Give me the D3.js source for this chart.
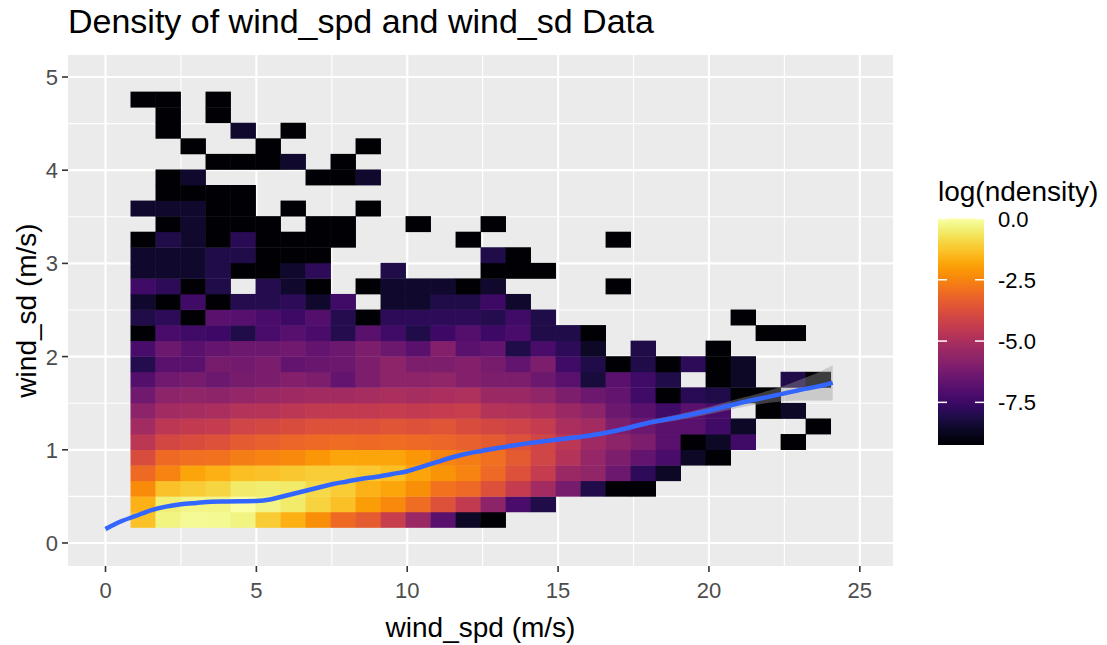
<!DOCTYPE html>
<html><head><meta charset="utf-8">
<script src="https://cdn.jsdelivr.net/npm/d3@7"></script>
<style>body{margin:0;background:#fff;} text{font-family:"Liberation Sans",Arial,sans-serif;}</style>
</head><body><svg id="chart" width="1107" height="645"></svg>
<script>
const N = null;
// bin widths (wind_spd, wind_sd); the first bin (index 0) is empty
const xBinWidth = 0.8287;
const yBinWidth = 0.167;
const firstBin = 1;
// log(ndensity) per cell, rows from the lowest wind_sd bin upward, columns by wind_spd bin
const densityRows = [
 [-1.3,-0.35,-0.15,-0.2,-0.35,-1.15,-1.65,-2.3,-3.05,-3.4,-4.3,-5.4,-6.85,-8.6,-9.2,N,N,N,N,N,N,N,N,N,N,N,N,N],
 [-1.6,-0.45,-0.3,-0.3,0.0,-0.3,-0.55,-1.0,-1.35,-2.0,-2.4,-3.0,-3.7,-4.45,-5.7,-7.2,-8.1,N,N,N,N,N,N,N,N,N,N,N],
 [-2.35,-1.3,-1.15,-0.95,-0.55,-0.5,-0.55,-0.9,-1.15,-1.6,-1.85,-2.3,-2.9,-3.1,-3.7,-4.4,-5.2,-6.2,-8.1,-9.2,-9.2,N,N,N,N,N,N,N],
 [-3.05,-2.5,-1.85,-1.65,-1.4,-1.3,-1.2,-1.1,-1.1,-1.2,-1.4,-1.85,-2.2,-2.5,-3.1,-3.7,-4.4,-5.4,-5.6,-6.45,-7.8,-8.6,N,N,N,N,N,N],
 [-3.85,-3.05,-2.95,-2.9,-2.65,-2.5,-2.4,-2.1,-1.85,-1.85,-1.85,-2.15,-2.5,-2.65,-2.95,-3.45,-4.05,-4.8,-5.5,-6.05,-6.65,-7.2,-8.6,-9.2,N,N,N,N],
 [-4.6,-4.0,-3.85,-3.7,-3.45,-3.3,-3.15,-3.05,-3.0,-3.05,-3.0,-3.05,-3.15,-3.3,-3.45,-3.7,-4.05,-4.6,-5.3,-5.7,-6.05,-6.85,-9.2,-8.6,-7.4,N,-9.2,N],
 [-5.2,-4.6,-4.45,-4.4,-4.05,-3.95,-3.85,-3.7,-3.7,-3.7,-3.6,-3.7,-3.6,-3.85,-4.0,-4.15,-4.4,-5.0,-5.2,-6.05,-6.45,-6.85,-6.85,-7.4,-8.6,N,N,-9.2],
 [-5.7,-5.2,-5.1,-5.0,-4.8,-4.75,-4.6,-4.45,-4.45,-4.45,-4.4,-4.45,-4.4,-4.3,-4.8,-4.85,-5.0,-5.4,-5.7,-6.45,-6.85,-7.4,-6.85,-7.2,N,-9.2,-8.6,N],
 [-6.35,-5.7,-5.6,-5.7,-5.5,-5.4,-5.3,-5.2,-5.2,-5.1,-5.0,-5.1,-5.0,-4.95,-5.4,-5.4,-5.6,-6.05,-6.45,-6.65,-7.4,-9.2,-7.9,-8.1,-9.2,-9.2,N,N],
 [-7.0,-6.35,-6.2,-6.45,-6.2,-6.1,-5.9,-6.05,-6.65,-6.05,-5.7,-5.7,-5.6,-5.9,-6.05,-6.05,-6.45,-6.85,-8.3,-6.85,-7.4,-8.1,N,-9.2,-8.6,N,-8.1,-9.2],
 [-8.0,-6.85,-6.85,-6.2,-6.25,-6.1,-6.65,-6.5,-6.45,-6.05,-5.7,-6.05,-6.05,-5.9,-6.2,-6.65,-6.05,-7.4,-8.1,-9.2,-8.1,-9.2,-7.8,-9.2,-8.6,N,N,N],
 [-7.2,-6.45,-6.85,-6.6,-6.45,-6.45,-6.35,-6.65,-6.45,-6.05,-6.45,-6.85,-5.9,-6.85,-6.65,-8.1,-7.2,-7.8,-8.6,N,-8.1,N,N,-9.2,N,N,N,N],
 [-9.2,-7.2,-7.4,-7.45,-8.1,-7.2,-6.9,-7.2,-8.0,-6.85,-7.4,-8.1,-7.45,-7.0,-7.45,-7.2,-8.1,-8.1,-9.2,N,N,N,N,N,N,-9.2,-9.2,N],
 [-8.1,-7.8,-9.2,-6.85,-6.9,-7.2,-7.5,-7.0,-8.0,-9.2,-7.8,-7.8,-7.8,-7.8,-8.0,-7.4,-8.1,N,N,N,N,N,N,N,-9.2,N,N,N],
 [-8.5,-9.2,-7.4,-9.2,-8.0,-8.0,-7.8,-8.5,-7.4,N,-8.5,-8.5,-8.1,-8.1,-7.5,-8.5,N,N,N,N,N,N,N,N,N,N,N,N],
 [-7.4,-7.8,-9.2,-8.1,N,-8.0,-8.5,-9.2,N,-9.2,-8.5,-8.5,-8.5,-9.2,-8.5,N,N,N,N,-9.2,N,N,N,N,N,N,N,N],
 [-8.5,-8.5,-8.5,-8.1,-9.2,-9.2,-8.5,-7.8,N,N,-8.1,N,N,N,-9.2,-9.2,-9.2,N,N,N,N,N,N,N,N,N,N,N],
 [-8.5,-8.5,-8.5,-8.1,-8.1,-9.2,-9.2,-9.2,N,N,N,N,N,N,-8.1,-9.2,N,N,N,N,N,N,N,N,N,N,N,N],
 [-9.2,-8.1,-8.5,-9.2,-7.9,-9.2,-9.2,-9.2,-9.2,N,N,N,N,-9.2,N,N,N,N,N,-9.2,N,N,N,N,N,N,N,N],
 [N,-9.2,-8.5,-9.2,-9.2,-9.2,N,-9.2,-9.2,N,N,-9.2,N,N,-9.2,N,N,N,N,N,N,N,N,N,N,N,N,N],
 [-8.5,-8.5,-8.5,-9.2,-9.2,N,-9.2,N,N,-9.2,N,N,N,N,N,N,N,N,N,N,N,N,N,N,N,N,N,N],
 [N,-9.2,-9.2,-9.2,-9.2,N,N,N,N,N,N,N,N,N,N,N,N,N,N,N,N,N,N,N,N,N,N,N],
 [N,-9.2,-8.5,N,N,N,N,-9.2,-9.2,-8.5,N,N,N,N,N,N,N,N,N,N,N,N,N,N,N,N,N,N],
 [N,N,N,-9.2,-9.2,-9.2,-8.5,N,-9.2,N,N,N,N,N,N,N,N,N,N,N,N,N,N,N,N,N,N,N],
 [N,N,-9.2,N,N,-9.2,N,N,N,-9.2,N,N,N,N,N,N,N,N,N,N,N,N,N,N,N,N,N,N],
 [N,-9.2,N,N,-8.5,N,-9.2,N,N,N,N,N,N,N,N,N,N,N,N,N,N,N,N,N,N,N,N,N],
 [N,-9.2,N,-9.2,N,N,N,N,N,N,N,N,N,N,N,N,N,N,N,N,N,N,N,N,N,N,N,N],
 [-9.2,-9.2,N,-9.2,N,N,N,N,N,N,N,N,N,N,N,N,N,N,N,N,N,N,N,N,N,N,N,N]
];
// loess smooth of wind_sd on wind_spd
const smoothX = [0,0.5,1,1.5,2,2.5,3,3.5,4,4.5,5,5.5,6,6.5,7,7.5,8,8.5,9,9.5,10,10.5,11,11.5,12,12.5,13,13.5,14,15,16,17,18,19,20,21,22,23,24,24.1];
const smoothY = [0.15,0.23,0.29,0.35,0.39,0.415,0.43,0.443,0.445,0.447,0.45,0.47,0.51,0.55,0.59,0.63,0.66,0.69,0.71,0.74,0.77,0.82,0.87,0.92,0.96,0.99,1.02,1.045,1.07,1.11,1.15,1.21,1.29,1.35,1.42,1.50,1.57,1.64,1.71,1.72];
const smoothSE = [0.03,0.02,0.015,0.012,0.01,0.01,0.01,0.01,0.01,0.01,0.01,0.01,0.01,0.01,0.01,0.01,0.01,0.01,0.01,0.01,0.01,0.01,0.01,0.01,0.012,0.012,0.013,0.013,0.014,0.016,0.018,0.02,0.025,0.03,0.04,0.05,0.065,0.11,0.18,0.19];
const xTicks = [0,5,10,15,20,25];
const xMinor = [2.5,7.5,12.5,17.5,22.5];
const yTicks = [0,1,2,3,4,5];
const yMinor = [0.5,1.5,2.5,3.5,4.5];
const legendTicks = [0,-2.5,-5,-7.5];
const fillDomain = [-9.24, 0];
const titleText = "Density of wind_spd and wind_sd Data";
const xTitle = "wind_spd (m/s)";
const yTitle = "wind_sd (m/s)";
const legendTitle = "log(ndensity)";

const svg = d3.select("#chart");
const P = {l:68, r:893, t:55, b:566};
const x = d3.scaleLinear().domain([-1.243, 26.1]).range([P.l, P.r]);
const y = d3.scaleLinear().domain([-0.247, 5.236]).range([P.b, P.t]);
const color = d3.scaleSequential(d3.interpolateInferno).domain(fillDomain);

svg.append("rect").attr("width",1107).attr("height",645).attr("fill","#fff");
svg.append("rect").attr("x",P.l).attr("y",P.t).attr("width",P.r-P.l).attr("height",P.b-P.t).attr("fill","#EBEBEB");
const grid = svg.append("g");
xMinor.forEach(v=>grid.append("line").attr("x1",x(v)).attr("x2",x(v)).attr("y1",P.t).attr("y2",P.b).attr("stroke","#fff").attr("stroke-width",1.1));
yMinor.forEach(v=>grid.append("line").attr("y1",y(v)).attr("y2",y(v)).attr("x1",P.l).attr("x2",P.r).attr("stroke","#fff").attr("stroke-width",1.1));
xTicks.forEach(v=>grid.append("line").attr("x1",x(v)).attr("x2",x(v)).attr("y1",P.t).attr("y2",P.b).attr("stroke","#fff").attr("stroke-width",2.2));
yTicks.forEach(v=>grid.append("line").attr("y1",y(v)).attr("y2",y(v)).attr("x1",P.l).attr("x2",P.r).attr("stroke","#fff").attr("stroke-width",2.2));

// tiles
const cells = [];
densityRows.forEach((row,r)=>row.forEach((v,c)=>{ if(v!==null) cells.push({r,c,v}); }));
svg.append("g").selectAll("rect").data(cells).join("rect")
  .attr("x",d=>x((d.c+firstBin)*xBinWidth))
  .attr("width",d=>x((d.c+firstBin+1)*xBinWidth)-x((d.c+firstBin)*xBinWidth)+0.4)
  .attr("y",d=>y((d.r+firstBin+1)*yBinWidth))
  .attr("height",d=>y((d.r+firstBin)*yBinWidth)-y((d.r+firstBin+1)*yBinWidth)+0.4)
  .attr("fill",d=>color(d.v));

// smooth
const sm = smoothX.map((v,i)=>({x:v,y:smoothY[i],se:smoothSE[i]}));
svg.append("path").datum(sm)
  .attr("d",d3.area().x(d=>x(d.x)).y0(d=>y(d.y-d.se)).y1(d=>y(d.y+d.se)).curve(d3.curveMonotoneX))
  .attr("fill","#999999").attr("fill-opacity",0.4);
svg.append("path").datum(sm)
  .attr("d",d3.line().x(d=>x(d.x)).y(d=>y(d.y)).curve(d3.curveMonotoneX))
  .attr("fill","none").attr("stroke","#3366FF").attr("stroke-width",4.5);

// axes
const ax = svg.append("g");
xTicks.forEach(v=>{
  ax.append("line").attr("x1",x(v)).attr("x2",x(v)).attr("y1",P.b).attr("y2",P.b+6).attr("stroke","#333").attr("stroke-width",1.6);
  ax.append("text").attr("x",x(v)).attr("y",P.b+32).attr("text-anchor","middle").attr("font-size",22).attr("fill","#4D4D4D").text(v);
});
yTicks.forEach(v=>{
  ax.append("line").attr("y1",y(v)).attr("y2",y(v)).attr("x1",P.l-6).attr("x2",P.l).attr("stroke","#333").attr("stroke-width",1.6);
  ax.append("text").attr("x",P.l-10).attr("y",y(v)+8).attr("text-anchor","end").attr("font-size",22).attr("fill","#4D4D4D").text(v);
});
svg.append("text").attr("x",(P.l+P.r)/2).attr("y",637).attr("text-anchor","middle").attr("font-size",28).attr("fill","#000").text(xTitle);
svg.append("text").attr("transform",`translate(36,${(P.t+P.b)/2}) rotate(-90)`).attr("text-anchor","middle").attr("font-size",28).attr("fill","#000").text(yTitle);
svg.append("text").attr("x",P.l).attr("y",33).attr("font-size",34).attr("fill","#000").text(titleText);

// legend
const L = {x:938, w:46, top:218.5, bot:445};
const ly = d3.scaleLinear().domain(fillDomain).range([L.bot, L.top]);
const defs = svg.append("defs");
const grad = defs.append("linearGradient").attr("id","lg").attr("x1",0).attr("y1",1).attr("x2",0).attr("y2",0);
d3.range(0,1.0001,0.02).forEach(t=>grad.append("stop").attr("offset",t).attr("stop-color",d3.interpolateInferno(t)));
svg.append("rect").attr("x",L.x).attr("y",L.top).attr("width",L.w).attr("height",L.bot-L.top).attr("fill","url(#lg)");
legendTicks.forEach(v=>{
  svg.append("line").attr("x1",L.x).attr("x2",L.x+9).attr("y1",ly(v)).attr("y2",ly(v)).attr("stroke","#fff").attr("stroke-width",1.5);
  svg.append("line").attr("x1",L.x+L.w-9).attr("x2",L.x+L.w).attr("y1",ly(v)).attr("y2",ly(v)).attr("stroke","#fff").attr("stroke-width",1.5);
  svg.append("text").attr("x",L.x+L.w+14).attr("y",ly(v)+8).attr("font-size",22).attr("fill","#000").text(d3.format(".1f")(v).replace("−","-"));
});
svg.append("text").attr("x",L.x).attr("y",201).attr("font-size",28).attr("fill","#000").text(legendTitle);
</script></body></html>
